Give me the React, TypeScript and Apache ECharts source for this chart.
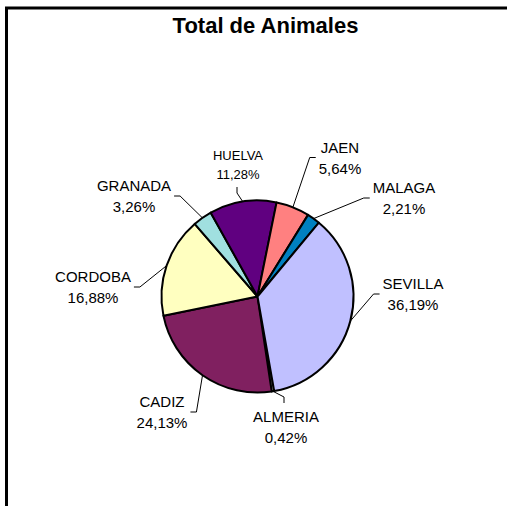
import React, { useEffect, useRef } from "react";
import * as echarts from "echarts";

const titleText = "Total de Animales";
const categories = ["ALMERIA", "CADIZ", "CORDOBA", "GRANADA", "HUELVA", "JAEN", "MALAGA", "SEVILLA"];
const percentages = [0.42, 24.13, 16.88, 3.26, 11.28, 5.64, 2.21, 36.19];
const sliceColors = ["#FFFFFF", "#802060", "#FFFFC0", "#A0E0E0", "#600080", "#FF8080", "#0080C0", "#C0C0FF"];
// label block centres (pixels) and font sizes
const labelCenters: [number, number][] = [
  [286, 427], [162, 412], [93, 287], [134, 196], [238, 165], [340, 157.5], [404, 198], [413, 294],
];
const labelFontSizes = [15, 15, 15, 15, 13, 15, 15, 15];
const labelLineHeights = [21, 21, 21, 21, 19, 21, 21, 21];

const FONT = 'Arial, "Liberation Sans", sans-serif';

function fmt(v: number) {
  return v.toFixed(2).replace(".", ",") + "%";
}

export default function App() {
  const ref = useRef<HTMLDivElement>(null);
  useEffect(() => {
    if (!ref.current) return;
    const chart = echarts.init(ref.current, null, { renderer: "svg" });
    const data = categories.map((name, i) => ({
      name,
      value: percentages[i],
      itemStyle: { color: sliceColors[i] },
      label: { fontSize: labelFontSizes[i], lineHeight: labelLineHeights[i] },
    }));
    chart.setOption({
      animation: false,
      backgroundColor: "#ffffff",
      graphic: [
        {
          type: "polyline",
          shape: { points: [[6.5, 520], [6.5, 8], [520, 8]] },
          style: { fill: "none", stroke: "#000", lineWidth: 3 },
          silent: true,
        },
        {
          type: "text",
          x: 265.5,
          y: 25,
          style: {
            text: titleText,
            font: `bold 22px ${FONT}`,
            fill: "#000",
            textAlign: "center",
            textVerticalAlign: "middle",
          },
        },
      ],
      series: [
        {
          type: "pie",
          center: [257.5, 296.5],
          radius: 96,
          startAngle: 280,
          clockwise: true,
          avoidLabelOverlap: false,
          itemStyle: { borderColor: "#000", borderWidth: 2 },
          label: {
            show: true,
            position: "outside",
            color: "#000",
            fontFamily: FONT,
            fontSize: 15,
            lineHeight: 21,
            formatter: (p: any) => `${p.name}\n${fmt(p.value)}`,
          },
          labelLine: {
            show: true,
            length: 10,
            length2: 10,
            smooth: false,
            lineStyle: { color: "#000", width: 1 },
          },
          labelLayout: (params: any) => {
            const i = params.dataIndex;
            const [cx, cy] = labelCenters[i];
            const w = params.labelRect.width;
            const h = params.labelRect.height;
            const start = params.labelLinePoints && params.labelLinePoints[0];
            const res: any = { x: cx, y: cy, align: "center", verticalAlign: "middle" };
            if (start) {
              const [sx, sy] = start;
              const l = cx - w / 2, r = cx + w / 2, t = cy - h / 2, b = cy + h / 2;
              const g = 3, s = 6;
              let end: number[], mid: number[];
              if (sx >= l && sx <= r) {
                if (sy > b) { end = [cx - 1, b + g]; mid = [cx - 1, b + g + s]; }
                else { end = [cx - 2, t - g]; mid = [cx - 2, t - g - s]; }
              } else if (sx < l) {
                end = [l - g, cy]; mid = [l - g - s, cy];
              } else {
                end = [r + g, cy]; mid = [r + g + s, cy];
              }
              res.labelLinePoints = [[sx, sy], mid, end];
            }
            return res;
          },
          data,
        },
      ],
    });
    return () => chart.dispose();
  }, []);
  return (
    <div
      ref={ref}
      style={{ position: "absolute", left: 0, top: 0, width: 507, height: 506, background: "#fff" }}
    />
  );
}
